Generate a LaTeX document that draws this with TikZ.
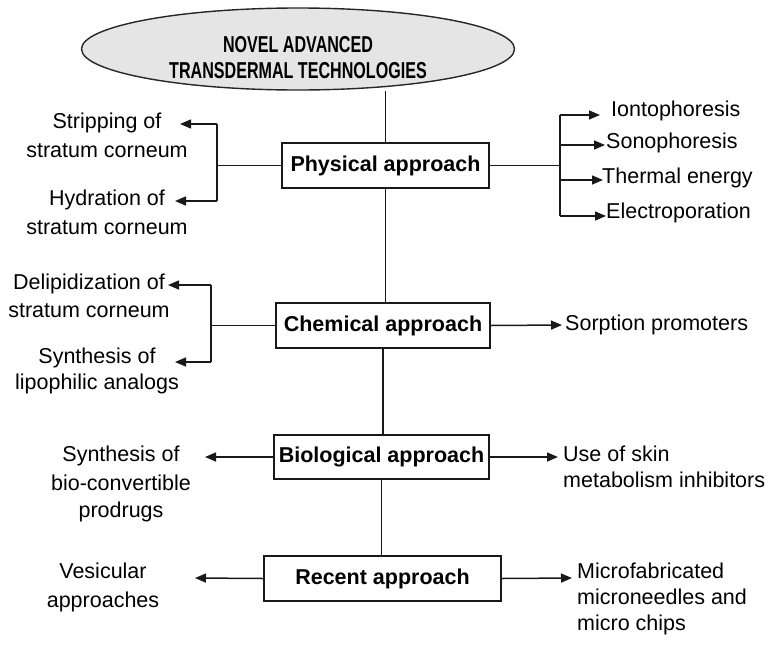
\documentclass[tikz,border=0pt]{standalone}
\usepackage{fontspec}
\setmainfont{Liberation Sans}
\newfontfamily\titlefont[FakeStretch=0.7]{Liberation Sans}
\usetikzlibrary{arrows.meta,shapes.geometric,backgrounds}
\begin{document}
\begin{tikzpicture}[x=1pt,y=-1pt,
  approach/.style={draw=black!90,line width=1.7pt,minimum height=45pt,inner sep=0pt,
    font=\fontsize{21.5}{26}\selectfont\bfseries},
  lbl/.style={inner sep=0pt,font=\fontsize{21.5}{26}\selectfont},
  lblc/.style={lbl,align=center},
  lbll/.style={lbl,align=left,anchor=west},
  link/.style={line width=1.5pt,draw=black!90},
  arr/.style={link,-{Triangle[length=11pt,width=9pt]}}]
\useasboundingbox (0,0) rectangle (775,645);

% title
\node[ellipse,draw=black!85,line width=1.4pt,fill=black!10,
  minimum width=433pt,minimum height=82pt,inner sep=0pt] (title) at (298,49) {};
\node[align=center,inner sep=0pt,
  font=\titlefont\bfseries\fontsize{23}{26}\selectfont] (titletext) at (298,58)
  {NOVEL ADVANCED\\TRANSDERMAL TECHNOLOGIES};

% approach boxes
\node[approach,minimum width=207pt] (phys) at (385.5,165.5) {Physical approach};
\node[approach,minimum width=214pt] (chem) at (383,325.5) {Chemical approach};
\node[approach,minimum width=215pt,minimum height=44pt] (bio) at (381.5,457) {Biological approach};
\node[approach,minimum width=237pt] (rec) at (382.5,578.5) {Recent approach};

% trunk
\begin{pgfonlayer}{background}
\draw[link] (phys.north) -- (phys.north |- title.south);
\end{pgfonlayer}
\draw[link] (phys.south) -- (phys.south |- chem.north);
\draw[link] (chem.south) -- (chem.south |- bio.north);
\draw[link] (bio.south) -- (bio.south |- rec.north);

% physical left
\node[lblc] (strip) at (107,135) {Stripping of\\[3pt]stratum corneum};
\node[lblc] (hydr) at (107,212.5) {Hydration of\\[3pt]stratum corneum};
\coordinate (pl1) at (217,124); \coordinate (pl2) at (217,201);
\coordinate (plt1) at (180,124); \coordinate (plt2) at (175,201);
\draw[link] (phys.west) -- (phys.west -| pl1);
\draw[link] (pl1) -- (pl2);
\draw[arr] (pl1) -- (plt1);
\draw[arr] (pl2) -- (plt2);

% physical right
\node[lbll] (ionto) at (611,111) {Iontophoresis};
\node[lbll] (sono) at (606,143) {Sonophoresis};
\node[lbll] (therm) at (602,178) {Thermal energy};
\node[lbll] (electro) at (606,213) {Electroporation};
\coordinate (pr1) at (560,115); \coordinate (pr2) at (560,145);
\coordinate (pr3) at (560,180); \coordinate (pr4) at (560,216);
\coordinate (prt1) at (600,115); \coordinate (prt2) at (605,145);
\coordinate (prt3) at (603,180); \coordinate (prt4) at (606,216);
\draw[link] (phys.east) -- (phys.east -| pr1);
\draw[link] (pr1) -- (pr4);
\draw[arr] (pr1) -- (prt1);
\draw[arr] (pr2) -- (prt2);
\draw[arr] (pr3) -- (prt3);
\draw[arr] (pr4) -- (prt4);

% chemical left
\node[lblc] (delip) at (89,296) {Delipidization of\\[2pt]stratum corneum};
\node[lblc] (lipo) at (97,370.5) {Synthesis of\\lipophilic analogs};
\coordinate (cl1) at (211,285); \coordinate (cl2) at (211,362);
\coordinate (clt1) at (168,285); \coordinate (clt2) at (175,362);
\draw[link] (chem.west) -- (chem.west -| cl1);
\draw[link] (cl1) -- (cl2);
\draw[arr] (cl1) -- (clt1);
\draw[arr] (cl2) -- (clt2);

% chemical right
\node[lbll] (sorp) at (565,325) {Sorption promoters};
\draw[arr] (chem.east) -- ([xshift=-3pt]sorp.west);

% biological
\node[lblc] (prodr) at (121,483.5) {Synthesis of\\[3pt]bio-convertible\\[1pt]prodrugs};
\node[lbll] (skin) at (563,466.5) {Use of skin\\metabolism inhibitors};
\coordinate (blt) at (205,457); \coordinate (brt) at (558,457);
\draw[arr] (bio.west) -- (blt);
\draw[arr] (bio.east) -- (brt);

% recent
\node[lblc] (vesic) at (103,587.5) {Vesicular\\[3pt]approaches};
\node[lbll] (micro) at (577,599) {Microfabricated\\microneedles and\\micro chips};
\coordinate (rlt) at (195,578); \coordinate (rrt) at (572,578);
\draw[arr] (rec.west) -- (rlt);
\draw[arr] (rec.east) -- (rrt);
\end{tikzpicture}
\end{document}
